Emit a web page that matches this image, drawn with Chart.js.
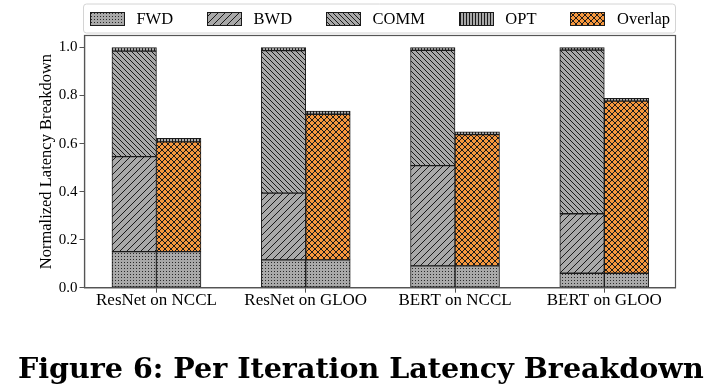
<!DOCTYPE html>
<html><head><meta charset="utf-8">
<script src="https://cdn.jsdelivr.net/npm/chart.js@4.4.1/dist/chart.umd.min.js"></script>
<style>html,body{margin:0;padding:0;background:#fff;}#wrap{width:720px;height:388px;}</style>
</head><body><div id="wrap"><canvas id="c" width="720" height="388"></canvas></div>
<script>
// ---- data ----
const categories = ['ResNet on NCCL', 'ResNet on GLOO', 'BERT on NCCL', 'BERT on GLOO'];
const fwd     = [0.150, 0.116, 0.091, 0.060];
const bwd     = [0.396, 0.278, 0.417, 0.248];
const comm    = [0.439, 0.593, 0.480, 0.681];
const opt     = [0.015, 0.013, 0.012, 0.011];
const overlap = [0.457, 0.606, 0.546, 0.717];
const yTicks  = [0.0, 0.2, 0.4, 0.6, 0.8, 1.0];
const yLabel  = 'Normalized Latency Breakdown';
const caption = 'Figure 6: Per Iteration Latency Breakdown';

const SERIF = "'Liberation Serif', 'Times New Roman', serif";
const GRAY = '#a9a9a9', ORANGE = '#f6973d', INK = '#1a1a1a';

function makePattern(kind, bg) {
  const dims = {fwd: [3, 3], bwd: [7, 7], comm: [5, 5], opt: [3, 3], ovl: [6, 6]}[kind];
  const [w, h] = dims;
  const c = document.createElement('canvas'); c.width = w; c.height = h;
  const g = c.getContext('2d');
  g.fillStyle = bg; g.fillRect(0, 0, w, h);
  g.strokeStyle = INK; g.fillStyle = '#2a2a2a'; g.lineWidth = 1;
  const line = (x1, y1, x2, y2) => { g.beginPath(); g.moveTo(x1, y1); g.lineTo(x2, y2); g.stroke(); };
  const fwdSlash = () => { line(-1, h + 1, w + 1, -1); line(-1, 1, 1, -1); line(w - 1, h + 1, w + 1, h - 1); };
  const backSlash = () => { line(-1, -1, w + 1, h + 1); line(-1, h - 1, 1, h + 1); line(w - 1, -1, w + 1, 1); };
  if (kind === 'fwd') { g.fillRect(1, 1, 1, 1); }
  if (kind === 'bwd') fwdSlash();
  if (kind === 'comm') backSlash();
  if (kind === 'opt') line(1.5, 0, 1.5, h);
  if (kind === 'ovl') { fwdSlash(); backSlash(); }
  return document.getElementById('c').getContext('2d').createPattern(c, 'repeat');
}
const pats = {
  fwd: makePattern('fwd', GRAY), bwd: makePattern('bwd', GRAY), comm: makePattern('comm', GRAY),
  opt: makePattern('opt', GRAY), ovl: makePattern('ovl', ORANGE)
};
const pts = arr => arr.map((v, i) => ({x: i, y: v}));
const barBase = {barThickness: 44.5, borderColor: INK, borderWidth: 1, borderSkipped: false};

const datasets = [
  {label: 'FWD', data: pts(fwd), stack: 'L', backgroundColor: pats.fwd, legend: true},
  {label: 'BWD', data: pts(bwd), stack: 'L', backgroundColor: pats.bwd, legend: true},
  {label: 'COMM', data: pts(comm), stack: 'L', backgroundColor: pats.comm, legend: true},
  {label: 'OPT', data: pts(opt), stack: 'L', backgroundColor: pats.opt, legend: true},
  {label: 'FWD', data: pts(fwd), stack: 'R', backgroundColor: pats.fwd},
  {label: 'Overlap', data: pts(overlap), stack: 'R', backgroundColor: pats.ovl, legend: true},
  {label: 'OPT', data: pts(opt), stack: 'R', backgroundColor: pats.opt}
].map(d => Object.assign({}, barBase, d));

const framePlugin = {
  id: 'frame',
  afterDraw(chart) {
    const {ctx, chartArea: a} = chart;
    ctx.save();
    ctx.strokeStyle = '#555'; ctx.lineWidth = 1.2;
    ctx.strokeRect(a.left, a.top, a.right - a.left, a.bottom - a.top);
    // legend
    const items = chart.data.datasets.filter(d => d.legend);
    ctx.font = `16.5px ${SERIF}`;
    const pw = 34, ph = 13, tgap = 12.5, cgap = 34;
    let total = 0;
    items.forEach((d, i) => { total += pw + tgap + ctx.measureText(d.label).width + (i ? cgap : 0); });
    let x = (a.left + a.right) / 2 - total / 2;
    const cy = 18.5;
    const bx = a.left - 1, by = 4, bw = a.right - a.left + 1, bh = 29, r = 3;
    ctx.beginPath();
    ctx.moveTo(bx + r, by); ctx.lineTo(bx + bw - r, by); ctx.arcTo(bx + bw, by, bx + bw, by + r, r);
    ctx.lineTo(bx + bw, by + bh - r); ctx.arcTo(bx + bw, by + bh, bx + bw - r, by + bh, r);
    ctx.lineTo(bx + r, by + bh); ctx.arcTo(bx, by + bh, bx, by + bh - r, r);
    ctx.lineTo(bx, by + r); ctx.arcTo(bx, by, bx + r, by, r); ctx.closePath();
    ctx.strokeStyle = '#d4d4d4'; ctx.lineWidth = 1; ctx.stroke();
    items.forEach(d => {
      const px = Math.round(x) + 0.5, py = Math.round(cy - ph / 2) + 0.5;
      ctx.fillStyle = d.backgroundColor;
      ctx.fillRect(px, py, pw, ph);
      ctx.strokeStyle = INK; ctx.lineWidth = 1;
      ctx.strokeRect(px, py, pw, ph);
      ctx.fillStyle = '#000'; ctx.textBaseline = 'middle'; ctx.textAlign = 'left';
      ctx.fillText(d.label, x + pw + tgap, cy + 1);
      x += pw + tgap + ctx.measureText(d.label).width + cgap;
    });
    // caption
    let size = 28;
    ctx.font = `bold ${size}px 'DejaVu Serif', serif`;
    const wNat = ctx.measureText(caption).width;
    size = size * 686 / wNat;
    ctx.font = `bold ${size}px 'DejaVu Serif', serif`;
    ctx.textBaseline = 'alphabetic'; ctx.fillStyle = '#000';
    ctx.fillText(caption, 18, 378);
    ctx.restore();
  }
};

new Chart(document.getElementById('c'), {
  type: 'bar',
  data: {datasets},
  options: {
    responsive: false, animation: false, devicePixelRatio: 1,
    layout: {padding: {left: 0, right: 44.5, top: 35.5, bottom: 70.3}},
    plugins: {legend: {display: false}, tooltip: {enabled: false}},
    scales: {
      x: {
        type: 'linear', min: -0.482, max: 3.477, stacked: true, offset: false,
        afterBuildTicks: s => { s.ticks = categories.map((_, i) => ({value: i})); },
        afterFit: s => { s.height = 30; },
        ticks: {callback: v => categories[v], color: '#000', font: {family: SERIF, size: 17}, padding: -2, maxRotation: 0, autoSkip: false},
        grid: {offset: false, drawOnChartArea: false, drawTicks: true, tickLength: 5, color: '#555', lineWidth: 1},
        border: {display: true, color: '#555', width: 1.2}
      },
      y: {
        min: 0, max: 1.05, stacked: true,
        afterBuildTicks: s => { s.ticks = yTicks.map(v => ({value: v})); },
        afterFit: s => { s.width = 84.5; },
        ticks: {callback: v => v.toFixed(1), color: '#000', font: {family: SERIF, size: 15}, padding: 2},
        grid: {offset: false, drawOnChartArea: false, drawTicks: true, tickLength: 5, color: '#555', lineWidth: 1},
        border: {display: true, color: '#555', width: 1.2},
        title: {display: true, text: yLabel, color: '#000', font: {family: SERIF, size: 16.5}, padding: {top: 36.8, bottom: 0}}
      }
    }
  },
  plugins: [framePlugin]
});
</script></body></html>
